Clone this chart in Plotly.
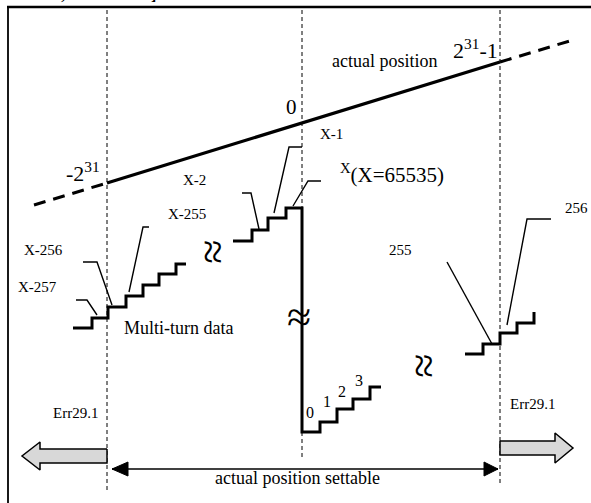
import plotly.graph_objects as go

# canvas is laid out in pixel units: x to the right, y downward
W, H = 591, 503

# actual position line
pos_x = [107, 500]
pos_y = [183, 62]
pos_ext_left_x = [34, 107]
pos_ext_left_y = [205, 183]
pos_ext_right_x = [500, 573]
pos_ext_right_y = [62, 40]

# dashed guide lines (x, y top, y bottom)
guide_x = [107, 302, 302, 500]
guide_top = [10, 10, 432, 10]
guide_bot = [490, 208, 460, 483]

# multi-turn staircases
stair_left_x = [73, 92, 92, 108, 108, 126, 126, 143, 143, 159, 159, 176, 176, 186]
stair_left_y = [328, 328, 318, 318, 307, 307, 296, 296, 285, 285, 274, 274, 264, 264]
stair_mid_x = [233, 252, 252, 268, 268, 286, 286, 302, 302, 320, 320, 337, 337, 353, 353, 370, 370, 381]
stair_mid_y = [241, 241, 230, 230, 218, 218, 208, 208, 432, 432, 422, 422, 409, 409, 399, 399, 387, 387]
stair_right_x = [465, 483, 483, 500, 500, 517, 517, 534, 534]
stair_right_y = [354, 354, 344, 344, 333, 333, 323, 323, 312]

# leader lines
leaders = {
    "X-257": ([76, 87, 97], [300, 300, 315]),
    "X-256": ([83, 97, 112], [262, 262, 305]),
    "X-255": ([149, 143, 129], [227, 227, 292]),
    "X-2": ([242, 251, 259], [193, 193, 229]),
    "X-1": ([302, 289, 274], [147, 147, 213]),
    "X": ([321, 308, 293], [181, 181, 206]),
    "255": ([447, 492], [262, 344]),
    "256": ([551, 527, 507], [219, 219, 325]),
}

# block arrows (Err29.1)
arrow_left_x = [107, 40, 40, 22, 40, 40, 107, 107]
arrow_left_y = [449, 449, 442, 456, 470, 463, 463, 449]
arrow_right_x = [500, 555, 555, 573, 555, 555, 500, 500]
arrow_right_y = [441, 441, 433, 448, 463, 455, 455, 441]

# settable range arrow
range_x = [112, 498]
range_y = 469

labels = [
    ("actual position", 384, 61, 18, "center"),
    ("0", 291, 107, 21, "center"),
    ("-2<sup>31</sup>", 83, 172, 22, "center"),
    ("2<sup>31</sup>-1", 475, 49, 22, "center"),
    ("X-1", 331, 134, 15, "center"),
    ("<sup>X</sup>(X=65535)", 392, 173, 21, "center"),
    ("X-2", 194, 180, 15, "center"),
    ("X-255", 187, 214, 15, "center"),
    ("X-256", 43, 250, 15, "center"),
    ("X-257", 37, 287, 15, "center"),
    ("Multi-turn data", 178, 328, 18, "center"),
    ("255", 400, 250, 15, "center"),
    ("256", 590, 208, 15, "right"),
    ("0", 310, 412, 16, "center"),
    ("1", 327, 401, 16, "center"),
    ("2", 342, 391, 16, "center"),
    ("3", 359, 380, 16, "center"),
    ("Err29.1", 75, 413, 15, "center"),
    ("Err29.1", 532, 404, 15, "center"),
    ("actual position settable", 297, 478, 18, "center"),
]

# break marks: x, y, rotated
breaks = [(213, 252, True), (424, 366, True), (299, 317, False)]

FONT = "Liberation Serif, Times New Roman, serif"
fig = go.Figure()


def line(x, y, width=1.5, dash="solid"):
    fig.add_trace(go.Scatter(x=x, y=y, mode="lines", line=dict(color="black", width=width, dash=dash),
                             hoverinfo="skip"))


# frame
line([7, W], [7, 7], 2.5)
line([8, 8], [7, H], 1.8)

for gx, t, b in zip(guide_x, guide_top, guide_bot):
    line([gx, gx], [t, b], 1, "4px,3px")

line(pos_ext_left_x, pos_ext_left_y, 3, "12px,8px")
line(pos_ext_right_x, pos_ext_right_y, 3, "12px,8px")
line(pos_x, pos_y, 3.2)

line(stair_left_x, stair_left_y, 3)
line(stair_mid_x, stair_mid_y, 3)
line(stair_right_x, stair_right_y, 3)

for lx, ly in leaders.values():
    line(lx, ly, 1.4)

for ax_, ay_ in [(arrow_left_x, arrow_left_y), (arrow_right_x, arrow_right_y)]:
    fig.add_trace(go.Scatter(x=ax_, y=ay_, mode="lines", fill="toself", fillcolor="#d8d8d8",
                             line=dict(color="black", width=1.5), hoverinfo="skip"))

# double arrow
line(range_x, [range_y, range_y], 1.5)
fig.add_trace(go.Scatter(x=[range_x[0], range_x[0] + 16, range_x[0] + 16, range_x[0]],
                         y=[range_y, range_y - 7, range_y + 7, range_y], mode="lines", fill="toself",
                         fillcolor="black", line=dict(color="black", width=1), hoverinfo="skip"))
fig.add_trace(go.Scatter(x=[range_x[1], range_x[1] - 14, range_x[1] - 14, range_x[1]],
                         y=[range_y, range_y - 7, range_y + 7, range_y], mode="lines", fill="toself",
                         fillcolor="black", line=dict(color="black", width=1), hoverinfo="skip"))

for txt, x, y, s, anc in labels:
    fig.add_annotation(x=x, y=y, text=txt, showarrow=False, xanchor=anc, yanchor="middle",
                       font=dict(family=FONT, size=s, color="black"))

for bx, by, rot in breaks:
    fig.add_annotation(x=bx, y=by, text="≈", showarrow=False, textangle=90 if rot else 0,
                       font=dict(family=FONT, size=44, color="black"))

# cropped text from the page above the figure
fig.add_annotation(x=0, y=5, text="<b>and 1-65,535 turns - 6]</b>", showarrow=False, xanchor="left",
                   yanchor="bottom", font=dict(family=FONT, size=16, color="black"))
fig.add_annotation(x=W, y=5, text="<b>and</b>", showarrow=False, xanchor="right",
                   yanchor="bottom", font=dict(family=FONT, size=16, color="black"))

fig.update_layout(width=W, height=H, margin=dict(l=0, r=0, t=0, b=0), showlegend=False,
                  plot_bgcolor="white", paper_bgcolor="white",
                  xaxis=dict(range=[0, W], visible=False, fixedrange=True),
                  yaxis=dict(range=[H, 0], visible=False, fixedrange=True))
fig.write_html("out.html", config={"displayModeBar": False},
               post_script="document.body.style.margin='0px';")
